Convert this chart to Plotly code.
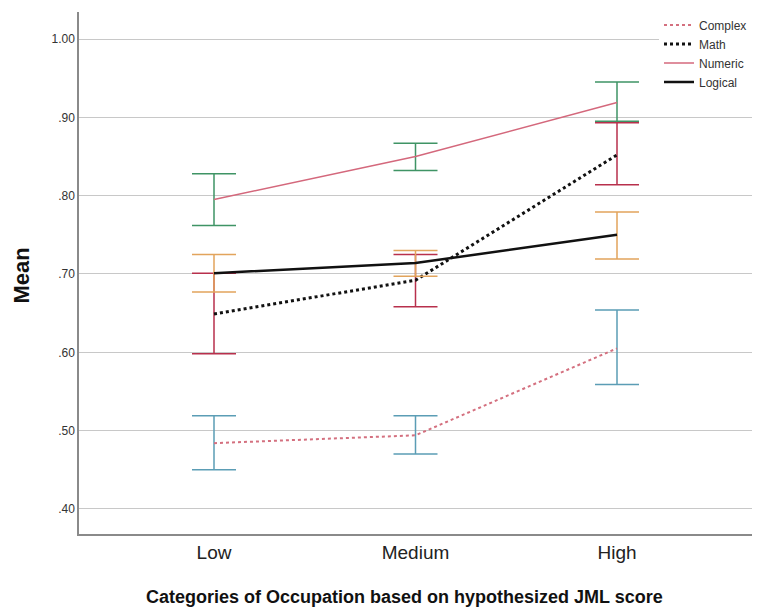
import plotly.graph_objects as go

categories = ["Low", "Medium", "High"]

complex_mean = [0.484, 0.494, 0.605]
complex_lo = [0.450, 0.470, 0.559]
complex_hi = [0.519, 0.519, 0.654]

math_mean = [0.649, 0.692, 0.852]
math_lo = [0.598, 0.658, 0.814]
math_hi = [0.701, 0.725, 0.893]

numeric_mean = [0.795, 0.850, 0.919]
numeric_lo = [0.762, 0.832, 0.895]
numeric_hi = [0.828, 0.867, 0.945]

logical_mean = [0.701, 0.714, 0.750]
logical_lo = [0.677, 0.697, 0.719]
logical_hi = [0.725, 0.730, 0.779]

ytick_vals = [0.4, 0.5, 0.6, 0.7, 0.8, 0.9, 1.0]
ytick_text = [".40", ".50", ".60", ".70", ".80", ".90", "1.00"]

series = [
    ("Complex", complex_mean, complex_lo, complex_hi, "#d4707f", "dot", 2, "#5b9db5"),
    ("Math", math_mean, math_lo, math_hi, "#111111", "dot", 3, "#b8304c"),
    ("Numeric", numeric_mean, numeric_lo, numeric_hi, "#d4687c", "solid", 1.5, "#3f9465"),
    ("Logical", logical_mean, logical_lo, logical_hi, "#111111", "solid", 2.5, "#e2a45c"),
]

fig = go.Figure()
for name, m, lo, hi, col, dash, w, ecol in series:
    fig.add_trace(go.Scatter(
        x=categories, y=m, name=name, mode="lines",
        line=dict(color=col, dash=dash, width=w),
        error_y=dict(type="data", symmetric=False,
                     array=[h - v for h, v in zip(hi, m)],
                     arrayminus=[v - l for v, l in zip(m, lo)],
                     color=ecol, thickness=1.5, width=22),
    ))

fig.update_layout(
    width=758, height=609,
    margin=dict(l=79, r=6, t=12, b=75),
    paper_bgcolor="white", plot_bgcolor="white",
    font=dict(family="Liberation Sans, Arial, sans-serif", color="#222222"),
    showlegend=True,
    legend=dict(x=1.0, xanchor="right", y=1.003, yanchor="top",
                bgcolor="white", font=dict(size=12, color="#333333"),
                itemwidth=30, tracegroupgap=0),
    xaxis=dict(type="category", range=[-0.67, 2.67], showgrid=False,
               showline=True, linecolor="#8a8a8a", linewidth=1.5,
               ticks="", tickfont=dict(size=19, color="#222222")),
    yaxis=dict(range=[0.368, 1.0345], tickvals=ytick_vals, ticktext=ytick_text,
               showgrid=True, gridcolor="#c8c8c8", gridwidth=1,
               showline=True, linecolor="#8a8a8a", linewidth=1.5,
               ticks="", tickfont=dict(size=12, color="#333333"), zeroline=False),
    annotations=[
        dict(text="<b>Categories of Occupation based on hypothesized JML score</b>",
             xref="paper", yref="paper", x=0.484, y=-0.1207,
             xanchor="center", yanchor="middle", showarrow=False,
             font=dict(size=18, color="#111111")),
        dict(text="<b>Mean</b>", xref="paper", yref="paper",
             x=-0.0847, y=0.495, xanchor="center", yanchor="middle",
             textangle=-90, showarrow=False,
             font=dict(size=22, color="#111111")),
    ],
)

fig.write_html("out.html")
